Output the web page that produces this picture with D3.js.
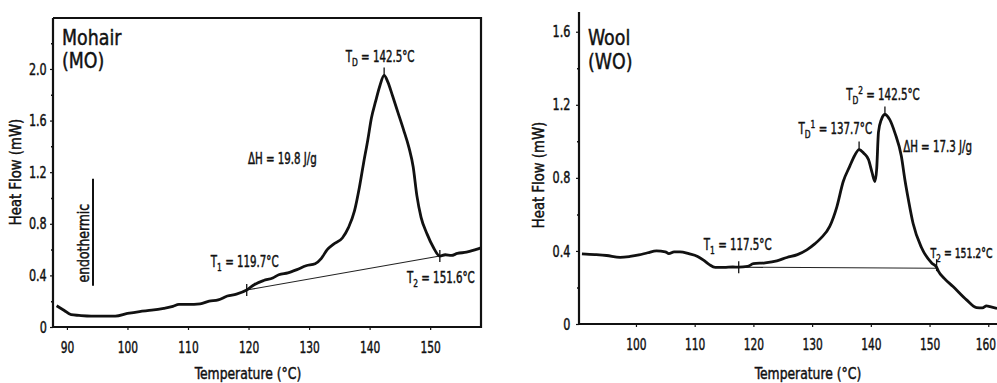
<!DOCTYPE html>
<html>
<head>
<meta charset="utf-8">
<script src="https://cdn.jsdelivr.net/npm/d3@7"></script>
<style>
  body { margin: 0; background: #fff; }
  text { font-family: "DejaVu Sans Condensed", "DejaVu Sans", sans-serif; fill: #111; stroke: #111; stroke-width: 0.45px; }
</style>
</head>
<body>
<svg id="chart" width="997" height="383"></svg>
<script>
// Mohair (MO) DSC trace, temperature in degC and heat flow in mW
const moTemp = [88.3, 89.5, 90.7, 92, 94, 96, 98, 100, 102, 104, 106, 107.5, 108.5, 110, 112, 113.5,
  115, 116.5, 118, 119.7, 121, 122.5, 124, 125, 126.5, 128, 129.5, 131, 132, 133, 134, 135.5, 136.5,
  137.5, 138.3, 139, 139.7, 140.3, 141, 141.7, 142.4, 143, 143.8, 144.7, 145.6, 146.5, 147.2, 147.8,
  148.5, 149.5, 150.5, 151.6, 152.5, 153.5, 154.5, 156, 157.5, 158.5];
const moFlow = [0.165, 0.13, 0.095, 0.09, 0.085, 0.085, 0.085, 0.105, 0.12, 0.13, 0.145, 0.16, 0.175,
  0.175, 0.18, 0.2, 0.21, 0.24, 0.255, 0.287, 0.33, 0.36, 0.38, 0.405, 0.42, 0.445, 0.475, 0.49, 0.53,
  0.6, 0.64, 0.69, 0.77, 0.9, 1.08, 1.27, 1.45, 1.62, 1.75, 1.87, 1.95, 1.9, 1.79, 1.66, 1.53, 1.39,
  1.24, 1.02, 0.85, 0.72, 0.62, 0.55, 0.56, 0.555, 0.57, 0.58, 0.6, 0.615];
const moBaseline = [[119.7, 0.287], [151.6, 0.55]];

// Wool (WO) DSC trace
const woTemp = [90.8, 93, 95, 97.3, 99, 100.5, 102, 103.5, 105, 105.6, 106.5, 107.5, 109, 110.5, 111.5,
  112.5, 113.5, 115, 116.5, 117.5, 119, 120, 122, 124, 125.7, 127.5, 129.1, 130.5, 131.5, 133, 134.2,
  135.3, 136.4, 137.2, 138, 138.8, 139.6, 140.2, 140.7, 141, 141.3, 141.8, 142.4, 143.2, 144.1, 145.2,
  145.8, 146.4, 147.2, 148.6, 150.4, 151.2, 151.5, 152.5, 154, 156.3, 158, 159, 159.7, 160.3, 161.5];
const woFlow = [0.384, 0.38, 0.375, 0.365, 0.37, 0.378, 0.39, 0.4, 0.395, 0.385, 0.395, 0.395, 0.385,
  0.37, 0.35, 0.325, 0.31, 0.31, 0.312, 0.311, 0.315, 0.33, 0.335, 0.346, 0.364, 0.38, 0.406, 0.44,
  0.47, 0.534, 0.64, 0.78, 0.863, 0.92, 0.955, 0.935, 0.9, 0.83, 0.78, 0.85, 1.05, 1.12, 1.147, 1.12,
  1.046, 0.918, 0.79, 0.68, 0.55, 0.42, 0.333, 0.311, 0.29, 0.25, 0.205, 0.132, 0.09, 0.088, 0.099,
  0.095, 0.085];
const woBaseline = [[117.5, 0.311], [151.2, 0.305]];

// Axis ticks
const moXTicks = [90, 100, 110, 120, 130, 140, 150];
const moYTicks = [0, 0.4, 0.8, 1.2, 1.6, 2.0];
const moYMinor = [0.2, 0.6, 1.0, 1.4, 1.8, 2.2];
const woXTicks = [100, 110, 120, 130, 140, 150, 160];
const woYTicks = [0, 0.4, 0.8, 1.2, 1.6];
const woYMinor = [0.2, 0.6, 1.0, 1.4];

const NARROW = 0.78; // horizontal squeeze, the figure uses a narrow lettering

const svg = d3.select("#chart");

function toPoints(xs, ys) {
    return xs.map((x, i) => ({ x: x, y: ys[i] }));
}

function addText(g, x, y, parts, anchor, size, k) {
    // Squeezed text with optional sub/superscript pieces
    const t = g.append("text")
        .attr("transform", `translate(${x},${y}) scale(${k || 0.76},1)`)
        .attr("text-anchor", anchor || "start")
        .style("font-size", (size || 15) + "px");
    if (typeof parts === "string") parts = [{ t: parts }];
    parts.forEach(p => {
        const s = t.append("tspan").text(p.t);
        if (p.sub) s.attr("dy", 4).style("font-size", "11px");
        else if (p.sup) s.attr("dy", -6).style("font-size", "11px");
        if (p.back) s.attr("dy", p.back);
    });
    return t;
}

function drawPanel(cfg) {
    const g = svg.append("g");
    const x = d3.scaleLinear().domain(cfg.xDomain).range(cfg.xRange);
    const y = d3.scaleLinear().domain(cfg.yDomain).range(cfg.yRange);

    // x axis
    const xAxis = g.append("g")
        .attr("transform", `translate(0,${cfg.yRange[0]})`)
        .call(d3.axisBottom(x).tickValues(cfg.xTicks).tickSize(3).tickPadding(12))
        .call(a => a.select(".domain").remove())
        .call(a => a.selectAll("line").attr("stroke", "#111").attr("stroke-width", 1.2))
        .call(a => a.selectAll("text").attr("fill", "#111").style("font-size", "16px")
            .attr("transform", "scale(0.74,1)"));
    // keep the last label inside the picture edge
    xAxis.selectAll("text").filter(d => x(d) > 980).attr("x", -4);

    // y axis, major and minor ticks
    g.append("g")
        .attr("transform", `translate(${cfg.xRange[0]},0)`)
        .call(d3.axisLeft(y).tickValues(cfg.yTicks).tickSize(3).tickPadding(cfg.yPad)
            .tickFormat(d => d === 0 ? "0" : d3.format(".1f")(d)))
        .call(a => a.select(".domain").remove())
        .call(a => a.selectAll("line").attr("stroke", "#111").attr("stroke-width", 1.2))
        .call(a => a.selectAll("text").attr("fill", "#111").style("font-size", "16px")
            .attr("transform", `scale(${NARROW},1)`));
    g.append("g")
        .attr("transform", `translate(${cfg.xRange[0]},0)`)
        .call(d3.axisLeft(y).tickValues(cfg.yMinor).tickSize(2).tickFormat(""))
        .call(a => a.select(".domain").remove())
        .call(a => a.selectAll("line").attr("stroke", "#111").attr("stroke-width", 1.5));

    // frame
    const [x0, x1] = cfg.xRange;
    const [y0, y1] = cfg.yRange;
    g.append("path")
        .attr("d", `M${x0},${y1}V${y0}H${x1}` + (cfg.rightEdge ? `V${y1}` : "") + `H${x0}`)
        .attr("fill", "none")
        .attr("stroke", "#111")
        .attr("stroke-width", 2.2);

    // baseline
    g.append("line")
        .attr("x1", x(cfg.baseline[0][0])).attr("y1", y(cfg.baseline[0][1]))
        .attr("x2", x(cfg.baseline[1][0])).attr("y2", y(cfg.baseline[1][1]))
        .attr("stroke", "#222")
        .attr("stroke-width", 1.1);

    // trace
    g.append("path")
        .datum(toPoints(cfg.temp, cfg.flow))
        .attr("fill", "none")
        .attr("stroke", "#111")
        .attr("stroke-width", 2.8)
        .attr("stroke-linejoin", "round")
        .attr("d", d3.line().x(d => x(d.x)).y(d => y(d.y)).curve(d3.curveMonotoneX));

    // axis titles
    g.append("text")
        .attr("transform", `translate(${cfg.yTitleX},${cfg.yTitleY}) rotate(-90) scale(0.92,1)`)
        .attr("text-anchor", "middle")
        .style("font-size", "16px")
        .text("Heat Flow (mW)");
    addText(g, cfg.xTitleX, 379, "Temperature (°C)", "middle", 16, 0.86);

    // sample name
    addText(g, x0 + 9, cfg.nameY[0], cfg.name[0], "start", 22, 0.88);
    addText(g, x0 + 9, cfg.nameY[1], cfg.name[1], "start", 22, 0.88);

    return { g, x, y };
}

function tickMark(p, px, py, up, down) {
    p.g.append("line")
        .attr("x1", p.x(px)).attr("x2", p.x(px))
        .attr("y1", p.y(py) - up).attr("y2", p.y(py) + down)
        .attr("stroke", "#111").attr("stroke-width", 1.3);
}

// ---- Mohair panel
const mo = drawPanel({
    xDomain: [87.7, 158.4], xRange: [53, 481],
    yDomain: [0, 2.395], yRange: [327, 18],
    xTicks: moXTicks, yTicks: moYTicks, yMinor: moYMinor,
    yPad: 5, rightEdge: true,
    temp: moTemp, flow: moFlow, baseline: moBaseline,
    yTitleX: 21, yTitleY: 172, xTitleX: 248,
    name: ["Mohair", "(MO)"], nameY: [45, 68]
});
tickMark(mo, 119.7, 0.287, 6, 6);
tickMark(mo, 151.6, 0.55, 6, 6);
tickMark(mo, 142.4, 1.95, 8, 0);
addText(mo.g, mo.x(142.4) - 4, mo.y(1.95) - 13, [{ t: "T" }, { t: "D", sub: true }, { t: " = 142.5°C", back: -4 }], "middle");
addText(mo.g, mo.x(119.9), mo.y(1.26), "ΔH = 19.8 J/g", "start");
addText(mo.g, mo.x(119.7) - 2, mo.y(0.287) - 23, [{ t: "T" }, { t: "1", sub: true }, { t: " = 119.7°C", back: -4 }], "middle");
addText(mo.g, mo.x(151.6) + 1, mo.y(0.55) + 27, [{ t: "T" }, { t: "2", sub: true }, { t: " = 151.6°C", back: -4 }], "middle");

// endothermic bar
mo.g.append("line")
    .attr("x1", 93).attr("x2", 93)
    .attr("y1", mo.y(1.15)).attr("y2", mo.y(0.32))
    .attr("stroke", "#111").attr("stroke-width", 2);
mo.g.append("text")
    .attr("transform", `translate(89,${mo.y(0.65)}) rotate(-90) scale(0.92,1)`)
    .attr("text-anchor", "middle")
    .style("font-size", "15px")
    .text("endothermic");

// ---- Wool panel
const wo = drawPanel({
    xDomain: [90.3, 163.7], xRange: [579, 1010],
    yDomain: [0, 1.708], yRange: [324, 12],
    xTicks: woXTicks, yTicks: woYTicks, yMinor: woYMinor,
    yPad: 8, rightEdge: false,
    temp: woTemp, flow: woFlow, baseline: woBaseline,
    yTitleX: 544, yTitleY: 175, xTitleX: 808,
    name: ["Wool", "(WO)"], nameY: [45, 69]
});
tickMark(wo, 117.5, 0.311, 6, 6);
tickMark(wo, 151.2, 0.311, 8, 4);
tickMark(wo, 138, 0.955, 8, 0);
tickMark(wo, 142.4, 1.147, 8, 0);
addText(wo.g, wo.x(117.5) - 1, wo.y(0.311) - 17, [{ t: "T" }, { t: "1", sub: true }, { t: " = 117.5°C", back: -4 }], "middle");
addText(wo.g, wo.x(138) + 13, wo.y(0.955) - 16, [{ t: "T" }, { t: "D", sub: true }, { t: "1", sup: true, back: -10 }, { t: " = 137.7°C", back: 6 }], "end");
addText(wo.g, wo.x(142.4) - 2, wo.y(1.147) - 14, [{ t: "T" }, { t: "D", sub: true }, { t: "2", sup: true, back: -10 }, { t: " = 142.5°C", back: 6 }], "middle");
addText(wo.g, wo.x(145.5), wo.y(0.955) + 2, "ΔH = 17.3 J/g", "start");
addText(wo.g, wo.x(151.2) - 6, wo.y(0.311) - 9, [{ t: "T" }, { t: "2", sub: true }, { t: " = 151.2°C", back: -4 }], "start", 14, 0.74);
</script>
</body>
</html>
